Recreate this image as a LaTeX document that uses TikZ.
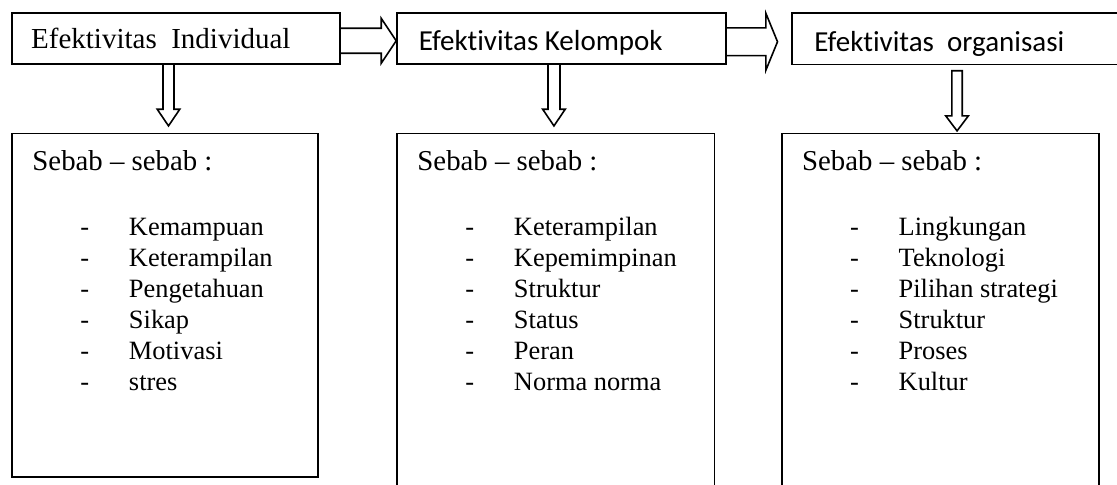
\documentclass[tikz,border=0pt]{standalone}
\usepackage{fontspec}
\setmainfont{Liberation Serif}
\newfontfamily\calibri[Ligatures=NoCommon]{Carlito}
\usetikzlibrary{calc,fit}

\tikzset{
  kotak/.style={draw, line width=1.2pt, inner sep=0pt},
  teks/.style={inner sep=0pt, anchor=base west},
  garis/.style={line width=1.2pt, line join=miter},
}
\newcommand{\fjudul}{\fontsize{21.75pt}{26pt}\selectfont}
\newcommand{\fsebab}{\fontsize{21.6pt}{26pt}\selectfont}
\newcommand{\fdaftar}{\fontsize{19.8pt}{23pt}\selectfont}

\begin{document}
\begin{tikzpicture}[x=0.75pt,y=-0.75pt]
\clip (0,0) rectangle (1117,485);
% kotak atas
\node[kotak, fit={(12,13) (340,64)}] (indiv) {};
\node[kotak, fit={(397,13) (726,64)}] (kel) {};
\node[kotak, fit={(792,13) (1140,64.5)}] (org) {};
\node[teks, font=\fjudul] (tindiv) at ($(indiv.north west)+(19.7,36.3)$) {Efektivitas\ \ Individual};
\node[teks, font=\fjudul\calibri] (tkel) at ($(kel.north west)+(22.3,38.7)$) {Efektivitas Kelompok};
\node[teks, font=\fjudul\calibri] (torg) at ($(org.north west)+(23,39)$) {Efektivitas\ \ organisasi};

% kotak bawah
\node[kotak, fit={(12,133.3) (318,476.7)}] (sb1) {};
\node[kotak, fit={(397,133.3) (714.3,500)}] (sb2) {};
\node[kotak, fit={(781.7,133.3) (1099,500)}] (sb3) {};
\foreach \k in {1,2,3}{
  \node[teks, font=\fsebab] (judul\k) at ($(sb\k.north west)+(21,38)$) {Sebab -- sebab :};
}
\foreach \isi [count=\i] in {Kemampuan,Keterampilan,Pengetahuan,Sikap,Motivasi,stres}{
  \node[teks, font=\fdaftar] (a\i) at ($(sb1.north west)+(69,103.4+31*\i-31)$) {\makebox[36.4pt][l]{-}\isi};
}
\foreach \isi [count=\i] in {Keterampilan,Kepemimpinan,Struktur,Status,Peran,Norma norma}{
  \node[teks, font=\fdaftar] (b\i) at ($(sb2.north west)+(69,103.4+31*\i-31)$) {\makebox[36.4pt][l]{-}\isi};
}
\foreach \isi [count=\i] in {Lingkungan,Teknologi,Pilihan strategi,Struktur,Proses,Kultur}{
  \node[teks, font=\fdaftar] (c\i) at ($(sb3.north west)+(69,103.4+31*\i-31)$) {\makebox[36.4pt][l]{-}\isi};
}

% panah ke kanan
\coordinate (u1) at ($(kel.west)+(0,2.3)$);
\draw[garis] ($(indiv.east |- u1)+(0,-12.5)$) -- ($(u1)+(-15,-12.5)$) -- ($(u1)+(-15,-22.5)$)
  -- (u1) -- ($(u1)+(-15,22.5)$) -- ($(u1)+(-15,12.5)$) -- ($(indiv.east |- u1)+(0,12.5)$);
\coordinate (u2) at ($(org.west)+(-13.7,3)$);
\draw[garis] ($(kel.east |- u2)+(0,-13.9)$) -- ($(u2)+(-11.6,-13.9)$) -- ($(u2)+(-11.6,-28.4)$)
  -- (u2) -- ($(u2)+(-11.6,28.4)$) -- ($(u2)+(-11.6,13.9)$) -- ($(kel.east |- u2)+(0,13.9)$);

% panah ke bawah
\coordinate (t1) at ($(sb1.north)+(3.5,-6.6)$);
\draw[garis] ($(t1 |- indiv.south)+(-5.5,0)$) -- ($(t1)+(-5.5,-16.7)$) -- ($(t1)+(-11.3,-16.7)$)
  -- (t1) -- ($(t1)+(11.3,-16.7)$) -- ($(t1)+(5.5,-16.7)$) -- ($(t1 |- indiv.south)+(5.5,0)$);
\coordinate (t2) at ($(sb2.north)+(-1.7,-6.6)$);
\draw[garis] ($(t2 |- kel.south)+(-6,0)$) -- ($(t2)+(-6,-16.7)$) -- ($(t2)+(-11.3,-16.7)$)
  -- (t2) -- ($(t2)+(11.3,-16.7)$) -- ($(t2)+(6,-16.7)$) -- ($(t2 |- kel.south)+(6,0)$);
\coordinate (t3) at ($(sb3.north)+(16.7,-1.6)$);
\draw[garis] ($(t3 |- org.south)+(-5.2,5.5)$) -- ($(t3)+(-5.2,-15)$) -- ($(t3)+(-11.3,-15)$)
  -- (t3) -- ($(t3)+(11.3,-15)$) -- ($(t3)+(5.2,-15)$) -- ($(t3 |- org.south)+(5.2,5.5)$) -- cycle;
\end{tikzpicture}
\end{document}
